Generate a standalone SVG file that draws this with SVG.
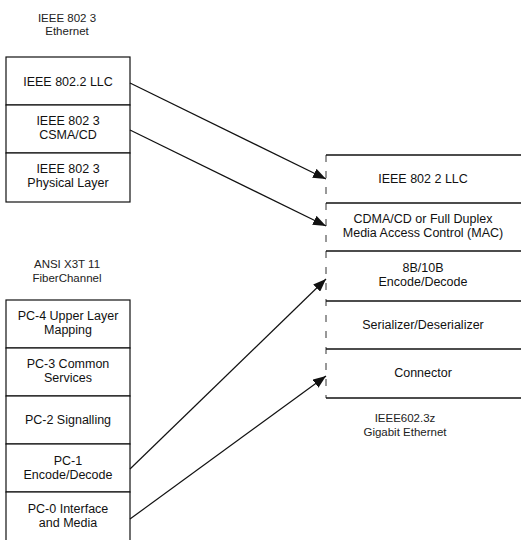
<svg xmlns="http://www.w3.org/2000/svg" width="521" height="540" viewBox="0 0 521 540">
<style>
text{font-family:"Liberation Sans",Arial,sans-serif;font-size:12.5px;fill:#111;text-anchor:middle}
.title{font-size:11.5px;fill:#222}
.box{fill:#fff;stroke:#111;stroke-width:1.2}
.div{stroke:#111;stroke-width:1.3}
.edge{stroke:#333;stroke-width:1;stroke-dasharray:7 9}
.conn{stroke:#111;stroke-width:1.2;fill:none}
</style>
<defs>
<marker id="arr" markerUnits="userSpaceOnUse" markerWidth="14" markerHeight="10" refX="13" refY="5" orient="auto">
<path d="M0,0 L13,5 L0,10 Z" fill="#111"/>
</marker>
</defs>
<rect width="521" height="540" fill="#fff"/>

<g id="ethernet">
<text class="title" x="67" y="22">IEEE 802 3</text>
<text class="title" x="67" y="35">Ethernet</text>
<g id="eth-llc"><rect class="box" x="6" y="57" width="124" height="48"/><text x="68" y="86">IEEE 802.2 LLC</text></g>
<g id="eth-csma"><rect class="box" x="6" y="105" width="124" height="48"/><text x="68" y="125">IEEE 802 3</text><text x="68" y="139">CSMA/CD</text></g>
<g id="eth-phy"><rect class="box" x="6" y="153" width="124" height="49"/><text x="68" y="173">IEEE 802 3</text><text x="68" y="187">Physical Layer</text></g>
</g>

<g id="fiberchannel">
<text class="title" x="67" y="268">ANSI X3T 11</text>
<text class="title" x="67" y="282">FiberChannel</text>
<g id="fc4"><rect class="box" x="6" y="300" width="124" height="48"/><text x="68" y="320">PC-4 Upper Layer</text><text x="68" y="334">Mapping</text></g>
<g id="fc3"><rect class="box" x="6" y="348" width="124" height="48"/><text x="68" y="368">PC-3 Common</text><text x="68" y="382">Services</text></g>
<g id="fc2"><rect class="box" x="6" y="396" width="124" height="48"/><text x="68" y="424">PC-2 Signalling</text></g>
<g id="fc1"><rect class="box" x="6" y="444" width="124" height="48"/><text x="68" y="465">PC-1</text><text x="68" y="479">Encode/Decode</text></g>
<g id="fc0"><rect class="box" x="6" y="492" width="124" height="60"/><text x="68" y="513">PC-0 Interface</text><text x="68" y="527">and Media</text></g>
</g>

<g id="gigabit">
<line class="edge" x1="326" y1="155" x2="326" y2="398"/>
<g id="gb-llc"><line class="div" x1="326" y1="155" x2="521" y2="155"/><text x="423" y="183">IEEE 802 2 LLC</text></g>
<g id="gb-mac"><line class="div" x1="326" y1="203" x2="521" y2="203"/><text x="423" y="223">CDMA/CD or Full Duplex</text><text x="423" y="237">Media Access Control (MAC)</text></g>
<g id="gb-enc"><line class="div" x1="326" y1="251" x2="521" y2="251"/><text x="423" y="272">8B/10B</text><text x="423" y="286">Encode/Decode</text></g>
<g id="gb-serdes"><line class="div" x1="326" y1="301" x2="521" y2="301"/><text x="423" y="329">Serializer/Deserializer</text></g>
<g id="gb-conn"><line class="div" x1="326" y1="349" x2="521" y2="349"/><text x="423" y="377">Connector</text></g>
<line class="div" x1="326" y1="398" x2="521" y2="398"/>
<text class="title" x="405" y="422">IEEE602.3z</text>
<text class="title" x="405" y="436">Gigabit Ethernet</text>
</g>

<g id="connectors">
<line class="conn" x1="130" y1="83" x2="326" y2="179" marker-end="url(#arr)"/>
<line class="conn" x1="130" y1="130" x2="326" y2="226" marker-end="url(#arr)"/>
<line class="conn" x1="130" y1="469" x2="326" y2="279" marker-end="url(#arr)"/>
<line class="conn" x1="130" y1="519" x2="326" y2="376" marker-end="url(#arr)"/>
</g>
</svg>
